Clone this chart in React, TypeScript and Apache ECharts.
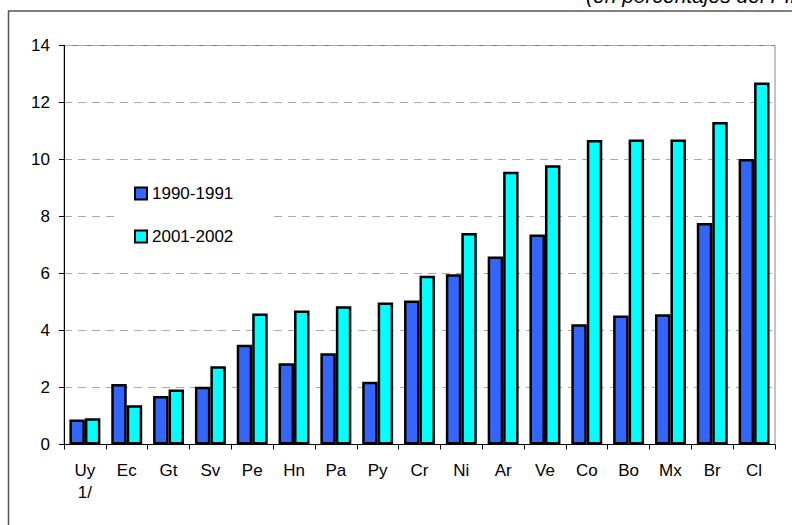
import React, { useEffect, useRef } from "react";
import * as echarts from "echarts";

const categories = ["Uy\n1/", "Ec", "Gt", "Sv", "Pe", "Hn", "Pa", "Py", "Cr", "Ni", "Ar", "Ve", "Co", "Bo", "Mx", "Br", "Cl"];
const series1990 = [0.88, 2.12, 1.7, 2.03, 3.5, 2.85, 3.2, 2.2, 5.05, 5.97, 6.6, 7.37, 4.22, 4.53, 4.57, 7.77, 10.02];
const series2001 = [0.92, 1.38, 1.93, 2.75, 4.6, 4.7, 4.85, 4.98, 5.92, 7.42, 9.57, 9.8, 10.68, 10.7, 10.7, 11.32, 12.7];
const seriesNames = ["1990-1991", "2001-2002"];
const subtitle = "(en porcentajes del PIB)";

export default function App() {
  const ref = useRef<HTMLDivElement>(null);
  useEffect(() => {
    if (!ref.current) return;
    const chart = echarts.init(ref.current, undefined, { renderer: "svg" });
    const font = "Liberation Sans, Arial, sans-serif";
    chart.setOption({
      animation: false,
      backgroundColor: "#fff",
      textStyle: { fontFamily: font },
      graphic: [
        {
          type: "rect",
          shape: { x: 8.5, y: 11, width: 820, height: 600 },
          style: { fill: "none", stroke: "#555", lineWidth: 1.5 },
          silent: true,
        },
        {
          type: "text",
          x: 586,
          y: 6,
          style: {
            text: subtitle,
            font: "italic 21px " + font,
            fill: "#000",
            verticalAlign: "bottom",
            align: "left",
          },
          silent: true,
        },
      ],
      grid: {
        left: 64,
        right: 17,
        top: 45.5,
        bottom: 80.5,
        show: true,
        borderColor: "#888",
        borderWidth: 1,
        backgroundColor: "transparent",
      },
      legend: {
        orient: "vertical",
        left: 120,
        top: 177,
        itemWidth: 12,
        itemHeight: 12,
        itemGap: 26,
        icon: "rect",
        backgroundColor: "#fff",
        padding: [8, 36, 8, 14],
        textStyle: { fontSize: 17, color: "#000", fontFamily: font },
        itemStyle: { borderColor: "#000", borderWidth: 2 },
        data: seriesNames,
        z: 10,
      },
      xAxis: {
        type: "category",
        data: categories,
        axisLine: { show: true, lineStyle: { color: "#000", width: 1 } },
        axisTick: { show: true, interval: 0, alignWithLabel: false, length: 5, lineStyle: { color: "#000" } },
        axisLabel: { interval: 0, fontSize: 17, color: "#000", margin: 15, lineHeight: 22, fontFamily: font },
        splitLine: { show: false },
      },
      yAxis: {
        type: "value",
        min: 0,
        max: 14,
        interval: 2,
        axisLine: { show: true, lineStyle: { color: "#000", width: 1 } },
        axisTick: { show: true, length: 5, lineStyle: { color: "#000" } },
        axisLabel: { fontSize: 17, color: "#000", margin: 14, fontFamily: font },
        splitLine: { show: true, lineStyle: { color: "#aaa", type: [8, 6], width: 1 } },
      },
      series: [
        {
          name: seriesNames[0],
          type: "bar",
          data: series1990,
          barGap: "0%",
          barCategoryGap: "26%",
          itemStyle: { color: "#3366FF", borderColor: "#000", borderWidth: 2.5 },
        },
        {
          name: seriesNames[1],
          type: "bar",
          data: series2001,
          barGap: "0%",
          barCategoryGap: "26%",
          itemStyle: { color: "#00FFFF", borderColor: "#000", borderWidth: 2.5 },
        },
      ],
    });
    return () => chart.dispose();
  }, []);
  return <div ref={ref} style={{ position: "fixed", left: 0, top: 0, width: 792, height: 525 }} />;
}
